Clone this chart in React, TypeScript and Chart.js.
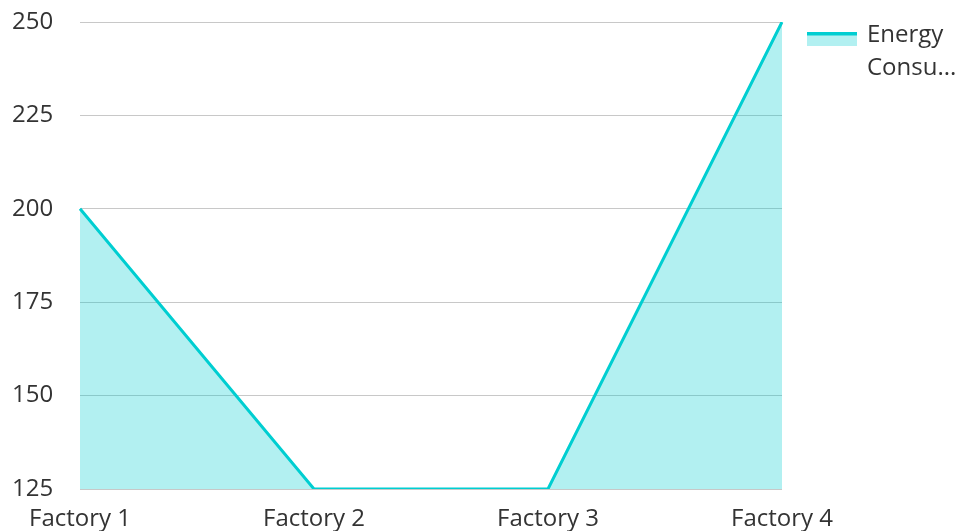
import React, { useEffect, useRef } from "react";
import { Chart, registerables } from "chart.js";

Chart.register(...registerables);

const categories = ["Factory 1", "Factory 2", "Factory 3", "Factory 4"];
const energyValues = [200, 125, 125, 250];
const seriesLabel = "Energy Consumption";
const legendLines = ["Energy", "Consu..."];
const yMin = 125;
const yMax = 250;
const yStep = 25;

const LINE = "rgb(0,206,209)";
const FILL = "rgba(0,206,209,0.3)";
const TEXT = "#333";
const FONT = "'Open Sans', 'Noto Sans', sans-serif";

const sideLegend = {
  id: "sideLegend",
  afterDraw(chart: any) {
    const ctx = chart.ctx as CanvasRenderingContext2D;
    const area = chart.chartArea;
    const x0 = area.right + 25;
    const y0 = area.top + 10;
    ctx.save();
    ctx.fillStyle = FILL;
    ctx.fillRect(x0, y0, 50, 14);
    ctx.fillStyle = LINE;
    ctx.fillRect(x0, y0, 50, 3.5);
    ctx.fillStyle = TEXT;
    ctx.font = `24px ${FONT}`;
    ctx.textBaseline = "alphabetic";
    ctx.textAlign = "left";
    legendLines.forEach((line, i) => {
      ctx.fillText(line, x0 + 60, area.top + 19.7 + i * 33.3);
    });
    ctx.restore();
  },
};

export default function App() {
  const ref = useRef<HTMLCanvasElement>(null);
  useEffect(() => {
    document.body.style.margin = "0";
    if (!ref.current) return;
    const chart = new Chart(ref.current, {
      type: "line",
      data: {
        labels: categories,
        datasets: [
          {
            label: seriesLabel,
            data: energyValues,
            borderColor: LINE,
            backgroundColor: FILL,
            borderWidth: 3,
            fill: "origin",
            pointRadius: 0,
            tension: 0,
          },
        ],
      },
      options: {
        animation: false,
        responsive: true,
        maintainAspectRatio: false,
        layout: { padding: { left: 12, top: 22, right: 179, bottom: 0 } },
        scales: {
          x: {
            grid: { display: false, drawTicks: false },
            border: { display: false },
            ticks: { font: { family: FONT, size: 24 }, color: TEXT, padding: 16, maxRotation: 0, autoSkip: false },
            afterFit: (scale: any) => {
              scale.height = 42;
            },
          },
          y: {
            min: yMin,
            max: yMax,
            grid: { color: "rgb(200,200,200)", drawTicks: false, lineWidth: 1 },
            border: { display: false },
            ticks: { stepSize: yStep, font: { family: FONT, size: 24 }, color: TEXT, padding: 0, crossAlign: "far" },
            afterFit: (scale: any) => {
              scale.width = 68;
            },
          },
        },
        plugins: {
          tooltip: { enabled: false },
          legend: { display: false },
        },
      },
      plugins: [sideLegend],
    });
    return () => chart.destroy();
  }, []);
  return (
    <div style={{ width: 961, height: 531, position: "relative" }}>
      <canvas ref={ref} />
    </div>
  );
}
